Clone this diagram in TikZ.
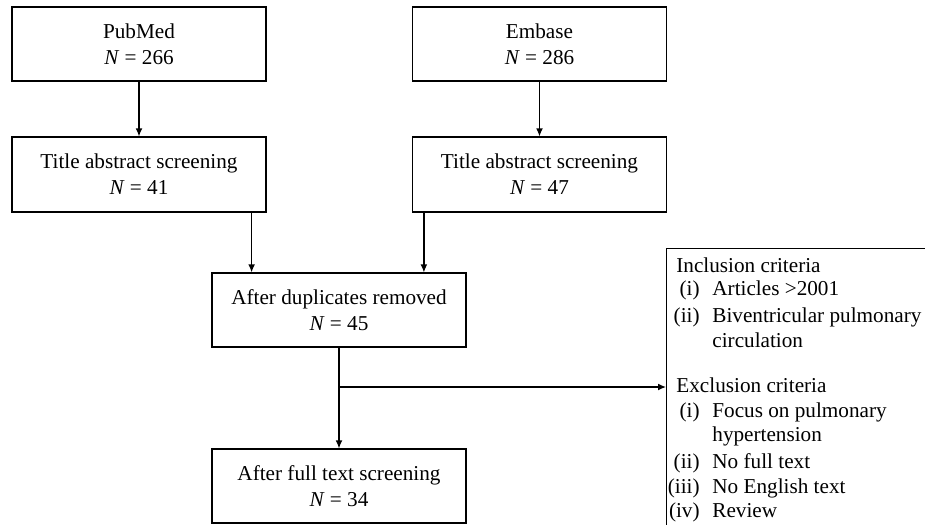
\documentclass[tikz,border=0pt]{standalone}
\usepackage{fontspec}
\setmainfont{Liberation Serif}
\usetikzlibrary{arrows.meta,positioning}
\tikzstyle{box}=[draw, line width=0.6pt, minimum width=127pt, minimum height=37pt, align=center, inner sep=0pt, font=\fontsize{10.6}{13}\selectfont]
\tikzstyle{arr}=[line width=0.6pt, -{Latex[length=4pt,width=3.4pt]}]
\tikzstyle{critline}=[inner sep=0pt, font=\fontsize{10.6}{12}\selectfont]
\tikzstyle{critlabel}=[critline, anchor=base east]
\tikzstyle{crittext}=[critline, anchor=base west]

\begin{document}
\begin{tikzpicture}[x=0.5pt,y=-0.5pt]
\useasboundingbox (0,0) rectangle (925,524);
% sources
\node[box] (pubmed) at (139,44) {PubMed\\\textit{N} = 266};
\node[box] (embase) at (539.5,44) {Embase\\\textit{N} = 286};
% screening
\node[box, minimum height=37.5pt] (title1) at (139,174.5) {Title abstract screening\\\textit{N} = 41};
\node[box, minimum height=37.5pt] (title2) at (539.5,174.5) {Title abstract screening\\\textit{N} = 47};
\node[box] (dup) at (339,310) {After duplicates removed\\\textit{N} = 45};
\node[box] (full) at (339,486) {After full text screening\\\textit{N} = 34};
% criteria
\node[draw, line width=0.6pt, anchor=north west, minimum width=200pt, minimum height=150pt, inner sep=0pt] (crit) at (666,248) {};
\node[crittext] (inc) at (676,272) {Inclusion criteria};
\node[critlabel] (inc1) at (700,295) {(i)};
\node[crittext] (inc1t) at (712,295) {Articles >2001};
\node[critlabel] (inc2) at (700,322) {(ii)};
\node[crittext] (inc2t) at (712,322) {Biventricular pulmonary};
\node[crittext] (inc2u) at (712,347) {circulation};
\node[crittext] (exc) at (676,392) {Exclusion criteria};
\node[critlabel] (exc1) at (700,417) {(i)};
\node[crittext] (exc1t) at (712,417) {Focus on pulmonary};
\node[crittext] (exc1u) at (712,441) {hypertension};
\node[critlabel] (exc2) at (700,468) {(ii)};
\node[crittext] (exc2t) at (712,468) {No full text};
\node[critlabel] (exc3) at (700,493) {(iii)};
\node[crittext] (exc3t) at (712,493) {No English text};
\node[critlabel] (exc4) at (700,517) {(iv)};
\node[crittext] (exc4t) at (712,517) {Review};
% connectors
\draw[arr] (pubmed) -- (title1);
\draw[arr] (embase) -- (title2);
\draw[arr] ([xshift=-7.5pt]title1.south east) -- ([xshift=-7.5pt]title1.south east |- dup.north);
\draw[arr] ([xshift=6pt]title2.south west) -- ([xshift=6pt]title2.south west |- dup.north);
\draw[arr] (dup) -- (full);
\coordinate (split) at (339,387);
\draw[arr] (split) -- (split -| crit.west);
\end{tikzpicture}
\end{document}
